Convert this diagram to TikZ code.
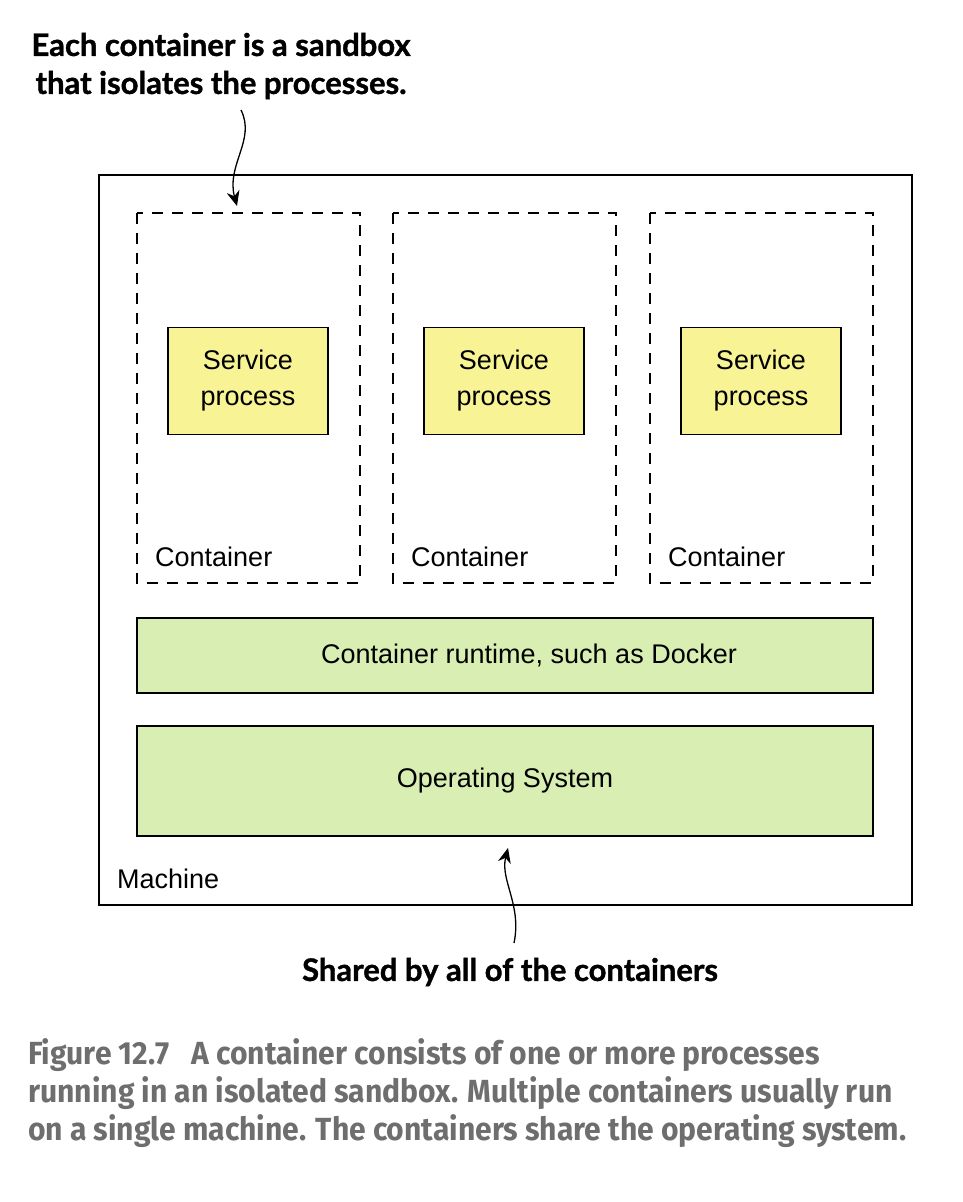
\documentclass[tikz,border=0pt]{standalone}
\usepackage{fontspec}
\setmainfont{Liberation Sans}
\newfontfamily\notefont[BoldFeatures={FakeBold=1.2}]{Lato}
\newfontfamily\capfont[FakeStretch=0.94]{Fira Sans}
\usetikzlibrary{arrows.meta}
\definecolor{svcyellow}{HTML}{F8F495}
\definecolor{layergreen}{HTML}{D9EEB2}
\definecolor{capgray}{HTML}{6E6E6E}
\tikzset{
  machinebox/.style={draw=black, line width=1.6pt},
  contbox/.style={draw=black, line width=1.3pt, dash pattern=on 11pt off 9pt},
  svcbox/.style={draw=black, line width=1.6pt, fill=svcyellow, minimum width=160pt, minimum height=107pt, align=center, font=\fontsize{27}{36}\selectfont, inner sep=0pt},
  layerbox/.style={draw=black, line width=1.6pt, fill=layergreen, minimum width=736pt, inner sep=0pt, font=\fontsize{27}{30}\selectfont},
  lbl/.style={font=\fontsize{27}{30}\selectfont, inner sep=0pt, anchor=west},
  note/.style={font=\notefont\bfseries\fontsize{31}{38}\selectfont, align=center, inner sep=0pt},
  curvearrow/.style={line width=1.3pt, -{Stealth[length=15pt,width=13pt]}},
  captext/.style={font=\capfont\bfseries\fontsize{32}{38}\selectfont, text=capgray, align=left, inner sep=0pt, anchor=north west}
}
\begin{document}
\begin{tikzpicture}[x=1pt,y=-1pt]
\useasboundingbox (0,0) rectangle (962,1202);
% machine
\draw[machinebox] (99,175) rectangle (912,905);
\node[lbl] (machinelbl) at (117,879) {Machine};
% containers
\foreach \i/\x in {1/137,2/393,3/650}{
  \draw[contbox] (\x,213) rectangle ++(223,370);
  \node[svcbox] (svc\i) at (\x+111,381) {Service\\process};
  \node[lbl] (cont\i) at (\x+18,557) {Container};
}
\coordinate (cont1top) at (237,206);
% layers
\node[layerbox, minimum height=75pt] (runtime) at (505,655.5) {\hspace*{48pt}Container runtime, such as Docker};
\node[layerbox, minimum height=110pt] (os) at (505,781) {Operating System};
% notes
\node[note] (topnote) at (221,66) {Each container is a sandbox\\that isolates the processes.};
\coordinate (topstart) at (241,110);
\draw[curvearrow] (topstart) .. controls (256,140) and (226,165) .. (cont1top);
\node[note] (botnote) at (510,972) {Shared by all of the containers};
\coordinate (botstart) at (514,943);
\coordinate (osbottom) at (508,848);
\draw[curvearrow] (botstart) .. controls (522,905) and (500,880) .. (osbottom);
% caption
\node[captext] (caption) at (28,1038) {Figure 12.7\hspace{22pt}A container consists of one or more processes\\running in an isolated sandbox. Multiple containers usually run\\on a single machine. The containers share the operating system.};
\end{tikzpicture}
\end{document}
